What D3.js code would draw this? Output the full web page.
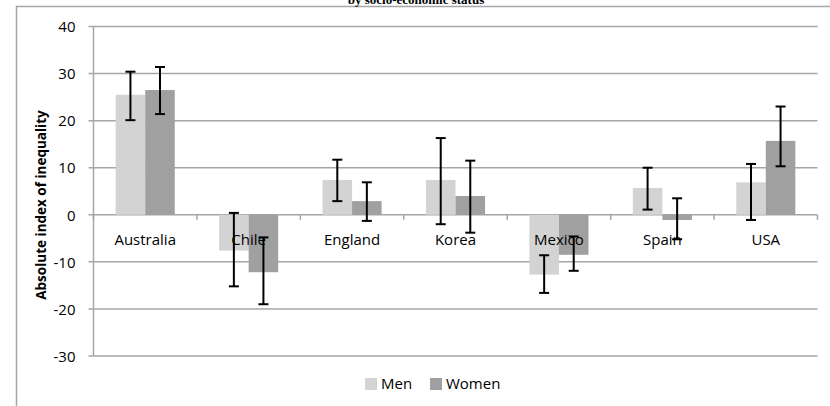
<!DOCTYPE html>
<html>
<head>
<meta charset="utf-8">
<script src="https://cdn.jsdelivr.net/npm/d3@7"></script>
<style>
  html, body { margin: 0; padding: 0; background: #fff; }
  svg { display: block; }
</style>
</head>
<body>
<svg id="chart" width="830" height="406"></svg>
<script>
// Absolute index of inequality by country and sex, with confidence intervals
const countries = ["Australia", "Chile", "England", "Korea", "Mexico", "Spain", "USA"];
const seriesNames = ["Men", "Women"];
const menValues   = [25.5, -7.6, 7.4, 7.4, -12.7, 5.7, 6.9];
const womenValues = [26.5, -12.2, 2.9, 4.0, -8.5, -1.1, 15.7];
const menLow    = [20.1, -15.2, 2.9, -2.0, -16.6, 1.1, -1.1];
const menHigh   = [30.4, 0.4, 11.7, 16.3, -8.6, 10.0, 10.8];
const womenLow  = [21.4, -19.0, -1.3, -3.8, -11.9, -5.2, 10.3];
const womenHigh = [31.4, -4.8, 6.9, 11.5, -4.6, 3.5, 23.0];
const yTicks = [-30, -20, -10, 0, 10, 20, 30, 40];
const colors = ["#d3d3d3", "#a0a0a0"];

const rows = countries.map((c, i) => ({
  country: c,
  series: [
    { name: "Men", value: menValues[i], lo: menLow[i], hi: menHigh[i] },
    { name: "Women", value: womenValues[i], lo: womenLow[i], hi: womenHigh[i] }
  ]
}));

const svg = d3.select("#chart");
const plotLeft = 93.5, plotRight = 817.5, plotTop = 26.5, plotBottom = 356;
const font = "'Open Sans', 'Noto Sans', sans-serif";

const y = d3.scaleLinear().domain([-30, 40]).range([plotBottom, plotTop]);
const x = d3.scaleBand().domain(countries).range([plotLeft, plotRight]).paddingInner(0).paddingOuter(0);
const xs = d3.scaleBand().domain(seriesNames).range([0, x.bandwidth()]).paddingInner(0).paddingOuter(0.75);

// Outer chart frame
svg.append("path")
  .attr("d", `M16.5,420 V6.5 H840`)
  .attr("fill", "none").attr("stroke", "#a6a6a6").attr("stroke-width", 1.5);

// Title (second line)
svg.append("text")
  .attr("x", 416).attr("y", 3.5)
  .attr("text-anchor", "middle")
  .attr("font-family", "'Liberation Serif', 'Times New Roman', serif")
  .attr("font-weight", "bold").attr("font-size", 13)
  .text("by socio-economic status");

// Horizontal gridlines
svg.append("g").selectAll("line").data(yTicks).join("line")
  .attr("x1", plotLeft - 5).attr("x2", plotRight)
  .attr("y1", d => y(d)).attr("y2", d => y(d))
  .attr("stroke", "#a6a6a6").attr("stroke-width", 1.5);

// Vertical axis line
svg.append("line")
  .attr("x1", plotLeft).attr("x2", plotLeft).attr("y1", plotTop).attr("y2", plotBottom)
  .attr("stroke", "#a6a6a6").attr("stroke-width", 1.5);

// Y tick labels (plain hyphen for negatives)
const yAxis = d3.axisLeft(y).tickValues(yTicks).tickSize(0).tickPadding(0)
  .tickFormat(d => String(d));
const ya = svg.append("g").attr("transform", `translate(${plotLeft - 18},0)`).call(yAxis);
ya.select(".domain").remove();
ya.selectAll("text")
  .attr("font-family", font)
  .attr("font-size", 15).attr("fill", "#000").attr("dy", "0.35em");

// Category tick marks along zero line
const boundaries = countries.map(c => x(c)).concat([plotRight]);
svg.append("g").selectAll("line").data(boundaries).join("line")
  .attr("x1", d => d).attr("x2", d => d)
  .attr("y1", y(0)).attr("y2", y(0) + 5)
  .attr("stroke", "#a6a6a6").attr("stroke-width", 1.5);

// Bars
const groups = svg.append("g").selectAll("g").data(rows).join("g")
  .attr("transform", d => `translate(${x(d.country)},0)`);

groups.selectAll("rect").data(d => d.series).join("rect")
  .attr("x", d => xs(d.name)).attr("width", xs.bandwidth())
  .attr("y", d => y(Math.max(0, d.value)))
  .attr("height", d => Math.abs(y(d.value) - y(0)))
  .attr("fill", (d, i) => colors[i]);

// Category labels
svg.append("g").selectAll("text").data(countries).join("text")
  .attr("x", d => x(d) + x.bandwidth() / 2).attr("y", y(0) + 30)
  .attr("text-anchor", "middle")
  .attr("font-family", font)
  .attr("font-size", 15).attr("fill", "#000")
  .text(d => d);

// Error bars
const eb = groups.selectAll("g.err").data(d => d.series).join("g").attr("class", "err");
const cx = d => xs(d.name) + xs.bandwidth() / 2;
eb.append("line")
  .attr("x1", cx).attr("x2", cx)
  .attr("y1", d => y(d.hi)).attr("y2", d => y(d.lo))
  .attr("stroke", "#000").attr("stroke-width", 2);
eb.selectAll("line.cap").data(d => [[d, d.hi], [d, d.lo]]).join("line").attr("class", "cap")
  .attr("x1", d => cx(d[0]) - 5).attr("x2", d => cx(d[0]) + 5)
  .attr("y1", d => y(d[1])).attr("y2", d => y(d[1]))
  .attr("stroke", "#000").attr("stroke-width", 2);

// Y axis title
svg.append("text")
  .attr("transform", `translate(46,205) rotate(-90)`)
  .attr("text-anchor", "middle")
  .attr("font-family", font)
  .attr("font-weight", "bold").attr("font-size", 13.5)
  .text("Absolute index of inequality");

// Legend
const legendX = [365, 430];
const lg = svg.append("g").selectAll("g").data(seriesNames).join("g")
  .attr("transform", (d, i) => `translate(${legendX[i]},378)`);
lg.append("rect").attr("width", 12).attr("height", 12)
  .attr("fill", (d, i) => colors[i]);
lg.append("text").attr("x", 16).attr("y", 6).attr("dy", "0.35em")
  .attr("font-family", font)
  .attr("font-size", 15).attr("fill", "#000")
  .text(d => d);
</script>
</body>
</html>
